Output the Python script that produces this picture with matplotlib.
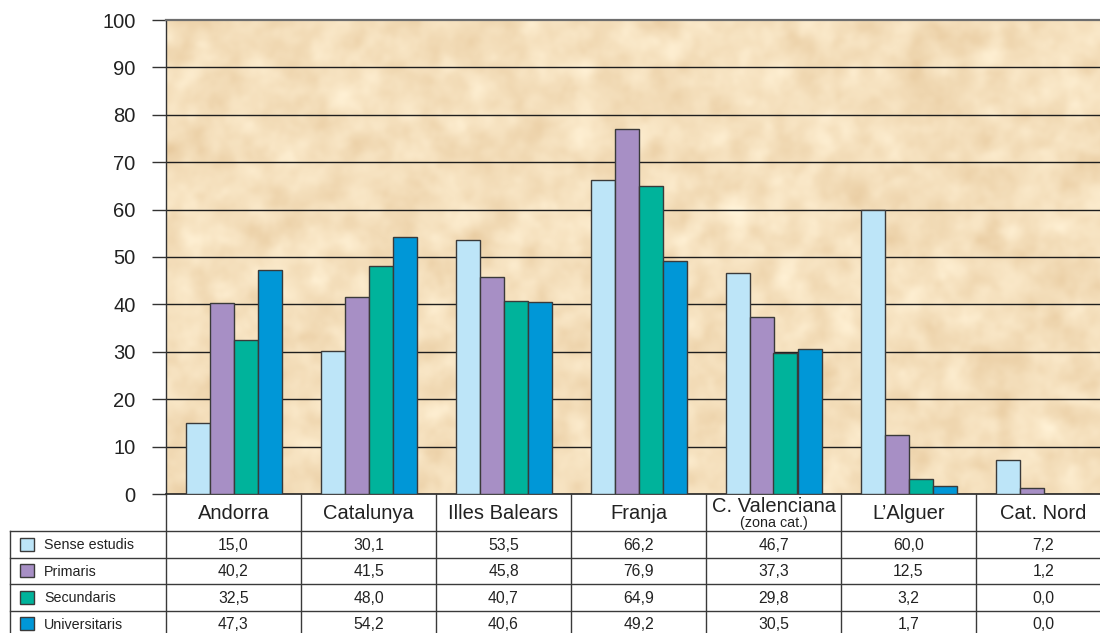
import numpy as np
import matplotlib
matplotlib.use("Agg")
import matplotlib.pyplot as plt
from matplotlib.transforms import blended_transform_factory
from matplotlib.patches import Rectangle

plt.rcParams['font.family'] = ['Liberation Sans', 'DejaVu Sans']

# Territories (column headers) and share of population by education level (%)
territories = ["Andorra", "Catalunya", "Illes Balears", "Franja",
               "C. Valenciana", "L\u2019Alguer", "Cat. Nord"]
territory_notes = ["", "", "", "", "(zona cat.)", "", ""]
series_names = ["Sense estudis", "Primaris", "Secundaris", "Universitaris"]
sense_estudis = [15.0, 30.1, 53.5, 66.2, 46.7, 60.0, 7.2]
primaris = [40.2, 41.5, 45.8, 76.9, 37.3, 12.5, 1.2]
secundaris = [32.5, 48.0, 40.7, 64.9, 29.8, 3.2, 0.0]
universitaris = [47.3, 54.2, 40.6, 49.2, 30.5, 1.7, 0.0]
y_ticks = [0, 10, 20, 30, 40, 50, 60, 70, 80, 90, 100]

series = [sense_estudis, primaris, secundaris, universitaris]
colors = ["#bde5f8", "#a78fc5", "#00b39b", "#0097d7"]
edge = "#3a3a3a"

W, H = 1100, 633
fig = plt.figure(figsize=(W / 100, H / 100), dpi=100)
fig.patch.set_facecolor("white")

# Plot area (runs slightly past the right edge of the figure)
x0, x1, y_top, y_zero = 166, 1111, 20, 494
ax = fig.add_axes([x0 / W, (H - y_zero) / H, (x1 - x0) / W, (y_zero - y_top) / H])
n = len(territories)
ax.set_xlim(-0.5, n - 0.5)
ax.set_ylim(0, 100)

# Parchment-like background: soft mottled beige
rng = np.random.default_rng(7)
tex = rng.normal(size=(240, 480))
fy = np.fft.fftfreq(240)[:, None]
fx = np.fft.fftfreq(480)[None, :]
spec = np.fft.fft2(tex)
big = np.real(np.fft.ifft2(spec * np.exp(-(fx ** 2 + fy ** 2) / (2 * 0.04 ** 2))))
small = np.real(np.fft.ifft2(spec * np.exp(-(fx ** 2 + fy ** 2) / (2 * 0.12 ** 2))))
big /= big.std()
small /= small.std()
t = 0.8 * big + 0.25 * small
base = np.array([245, 224, 189]) / 255.0
tint = np.array([0.012, 0.020, 0.028])
img = np.clip(base[None, None, :] + t[:, :, None] * tint[None, None, :], 0, 1)
ax.imshow(img, extent=(-0.5, n - 0.5, 0, 100), aspect="auto",
          interpolation="bilinear", zorder=0)

# Grid lines
for v in y_ticks[1:-1]:
    ax.axhline(v, color="#1e1e1e", lw=1.0, zorder=1)

# Bars
bw = 24 / 135
xs = np.arange(n)
for i, (vals, c) in enumerate(zip(series, colors)):
    ax.bar(xs + (i - 1.5) * bw, vals, width=bw, color=c, edgecolor=edge,
           linewidth=1.0, zorder=3)

# Axes styling
ax.set_yticks(y_ticks)
ax.set_yticklabels([str(v) for v in y_ticks], fontsize=14.5, color="#222222")
ax.tick_params(axis="y", length=10, width=1.0, color="#333333", pad=12)
ax.set_xticks([])
ax.spines["right"].set_visible(False)
ax.spines["top"].set_color("#6e6e6e")
ax.spines["top"].set_linewidth(1.6)
ax.spines["left"].set_color("#333333")
ax.spines["bottom"].set_color("#222222")
ax.spines["left"].set_linewidth(1.0)
ax.spines["bottom"].set_linewidth(1.2)

# Data table below the plot
ov = fig.add_axes([0, 0, 1, 1], zorder=5)
ov.set_xlim(0, W)
ov.set_ylim(H, 0)
ov.axis("off")
tr = blended_transform_factory(ax.transData, ov.transData)

line_c = "#3a3a3a"
row_edges = [531, 557.5, 584, 610.5, 637]
# Vertical separators between territory columns
for k in range(n + 1):
    ov.plot([k - 0.5, k - 0.5], [y_zero, H + 5], color=line_c, lw=1.0,
            transform=tr, clip_on=False)
# Left border of the legend column
ov.plot([10, 10], [row_edges[0], H + 5], color=line_c, lw=1.0)
# Horizontal row lines
for y in row_edges[:-1]:
    ov.plot([10, W + 20], [y, y], color=line_c, lw=1.0, clip_on=False)

# Column headers
for k, (name, note) in enumerate(zip(territories, territory_notes)):
    if note:
        ov.text(k, 511.5, name, transform=tr, ha="center", va="baseline",
                fontsize=14.5, color="#222222")
        ov.text(k, 526.5, note, transform=tr, ha="center", va="baseline",
                fontsize=10.3, color="#222222")
    else:
        ov.text(k, 519, name, transform=tr, ha="center", va="baseline",
                fontsize=14.5, color="#222222")

# Legend rows with values
for r, (label, vals, c) in enumerate(zip(series_names, series, colors)):
    yc = (row_edges[r] + row_edges[r + 1]) / 2
    ov.add_patch(Rectangle((20, yc - 6.5), 14, 13, facecolor=c,
                           edgecolor=edge, lw=1.0))
    ov.text(44, yc + 5.1, label, ha="left", va="baseline", fontsize=10.3,
            color="#222222")
    for k, v in enumerate(vals):
        ov.text(k, yc + 5.7, f"{v:.1f}".replace(".", ","), transform=tr,
                ha="center", va="baseline", fontsize=11.3, color="#222222")

fig.savefig("out.png", dpi=100)
